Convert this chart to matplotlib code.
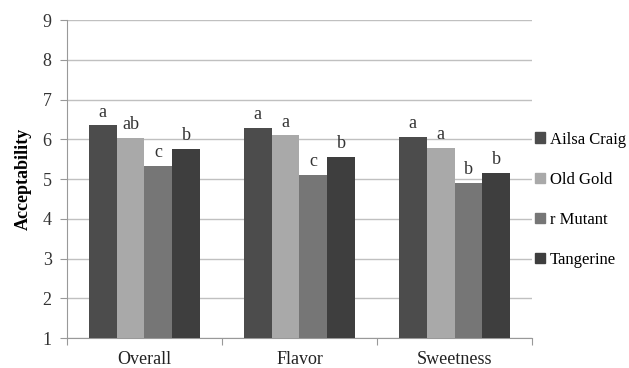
import numpy as np
import matplotlib
matplotlib.use("Agg")
import matplotlib.pyplot as plt
from matplotlib.patches import Patch

categories = ["Overall", "Flavor", "Sweetness"]
series = ["Ailsa Craig", "Old Gold", "r Mutant", "Tangerine"]
values = {
    "Ailsa Craig": [6.35, 6.28, 6.07],
    "Old Gold": [6.03, 6.10, 5.78],
    "r Mutant": [5.33, 5.10, 4.90],
    "Tangerine": [5.75, 5.55, 5.15],
}
letters = {
    "Ailsa Craig": ["a", "a", "a"],
    "Old Gold": ["ab", "a", "a"],
    "r Mutant": ["c", "c", "b"],
    "Tangerine": ["b", "b", "b"],
}
colors = ["#4c4c4c", "#a9a9a9", "#767676", "#3e3e3e"]

plt.rcParams['font.family'] = ['Liberation Serif', 'DejaVu Serif']

fig = plt.figure(figsize=(6.29, 3.68), dpi=100)
ax = fig.add_axes([0.1065, 0.0815, 0.7393, 0.864])

x = np.arange(len(categories))
w = 0.18
for i, s in enumerate(series):
    pos = x + (i - 1.5) * w
    ax.bar(pos, values[s], width=w, bottom=0, color=colors[i], zorder=3)
    for p, v, t in zip(pos, values[s], letters[s]):
        ax.text(p, v + 0.12, t, ha='center', va='bottom', fontsize=13, color='#333333')

ax.set_ylim(1, 9)
ax.set_xlim(-0.5, 2.5)
ax.set_yticks(range(1, 10))
ax.yaxis.grid(True, color='#c0c0c0', linewidth=1, zorder=0)
ax.set_xticks([-0.5, 0.5, 1.5, 2.5], minor=False)
ax.set_xticklabels([])
ax.set_xticks(x, minor=True)
ax.set_xticklabels(categories, minor=True, fontsize=13, color='#222222')
ax.tick_params(axis='x', which='minor', length=0, pad=9)
ax.tick_params(axis='x', which='major', length=5, direction='out', color='#999999')
ax.tick_params(axis='y', length=5, direction='out', color='#999999',
               labelsize=13, labelcolor='#333333', pad=6)
for sp in ['top', 'right']:
    ax.spines[sp].set_visible(False)
for sp in ['left', 'bottom']:
    ax.spines[sp].set_color('#999999')
ax.set_ylabel("Acceptability", fontsize=13, fontweight='bold', labelpad=8)

handles = [Patch(color=c, label=s) for c, s in zip(colors, series)]
fig.legend(handles=handles, loc='center left', bbox_to_anchor=(0.826, 0.457),
           frameon=False, fontsize=12, handlelength=0.6, handleheight=0.6,
           handletextpad=0.3, labelspacing=1.45)

fig.savefig("out.png", dpi=100)
